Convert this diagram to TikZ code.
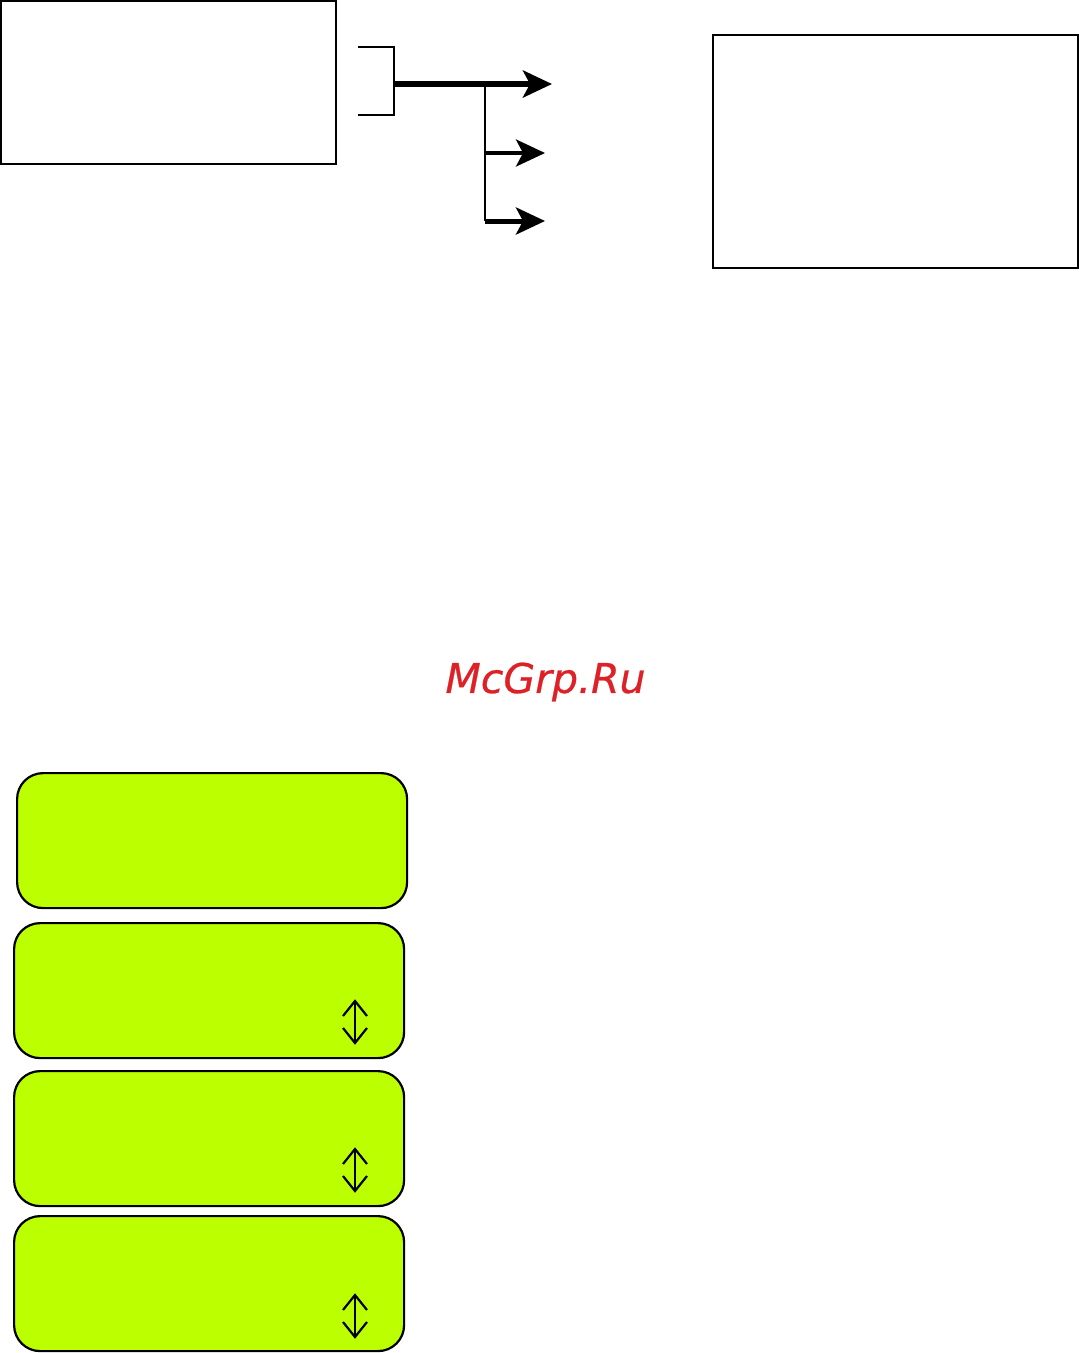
\documentclass[tikz,border=0pt]{standalone}
\usepackage{fontspec}
\newfontfamily\wmfont[FakeBold=0.6]{DejaVu Sans}
\usetikzlibrary{arrows.meta,positioning}
\definecolor{lcd}{HTML}{BCFF00}
\definecolor{wm}{HTML}{DD2127}
\tikzset{
  plainbox/.style={draw=black,line width=2.2pt,fill=white,rectangle,inner sep=0pt,anchor=north west},
  lcdbox/.style={draw=black,line width=2.2pt,fill=lcd,rectangle,rounded corners=26pt,inner sep=0pt,anchor=north west,minimum width=390pt,minimum height=135pt},
  tipa/.style={-{Stealth[length=29pt,width=27pt,inset=7pt]}},
  updown/.pic={
    \coordinate (-t) at (0,-21);
    \coordinate (-b) at (0,21);
    \draw[line width=2.2pt] (-12,-6) -- (-t) -- (12,-6);
    \draw[line width=2.2pt] (-12,6) -- (-b) -- (12,6);
    \draw[line width=2.2pt] (-t) -- (-b);
  }
}
\begin{document}
\begin{tikzpicture}[x=1pt,y=-1pt]
\useasboundingbox (0,0) rectangle (1079,1353);
\node[plainbox,minimum width=335pt,minimum height=163pt] (boxa) at (0,0) {};
\node[plainbox,minimum width=365pt,minimum height=233pt] (boxb) at (712,34) {};
\coordinate (bt) at (358,47);
\coordinate (bc) at (394,47);
\coordinate (bd) at (394,115);
\coordinate (bb) at (358,115);
\coordinate (j) at (394,84);
\coordinate (k) at (485,84);
\coordinate (m) at (485,153);
\coordinate (n) at (485,221);
\coordinate (e1) at (552,84);
\coordinate (e2) at (545,153);
\coordinate (e3) at (545,221);
\draw[line width=2.5pt] (bt) -- (bc) -- (bd) -- (bb);
\draw[line width=2.5pt] (k) -- (n);
\draw[tipa,line width=6pt] (j) -- (e1);
\draw[tipa,line width=3.5pt] (m) -- (e2);
\draw[tipa,line width=5pt] (n) -- (e3);
\node[wm,font=\wmfont\fontsize{41}{41}\selectfont\itshape,inner sep=0pt] (wmk) at (545.5,682) {McGrp.Ru};
\node[lcdbox] (l1) at (16,772) {};
\node[lcdbox] (l2) at (13,922) {};
\node[lcdbox] (l3) at (13,1070) {};
\node[lcdbox] (l4) at (13,1215) {};
\pic (u2) at (355,1022) {updown};
\pic (u3) at (355,1170) {updown};
\pic (u4) at (355,1316) {updown};
\end{tikzpicture}
\end{document}
